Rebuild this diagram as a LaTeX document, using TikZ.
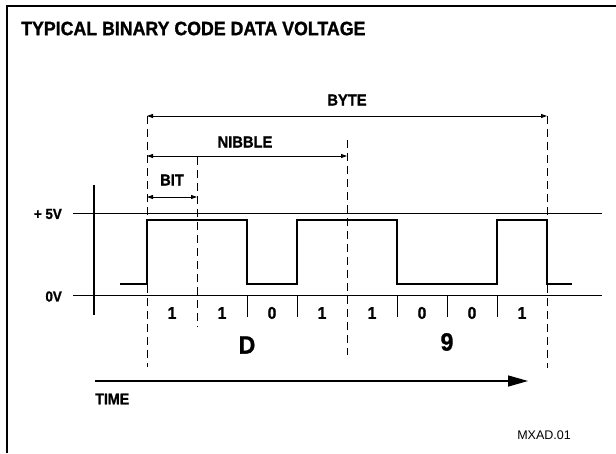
\documentclass[tikz,border=0pt]{standalone}
\usepackage{fontspec}
\setmainfont{Liberation Sans}[FakeStretch=0.92, BoldFeatures={FakeBold=1.2}]
\newfontfamily\plainfont{Liberation Sans}
\usetikzlibrary{arrows.meta}
\begin{document}
\begin{tikzpicture}[x=1pt,y=-1pt,
  lbl/.style={font=\fontsize{16}{17}\selectfont\bfseries, inner sep=0pt},
  vlbl/.style={font=\fontsize{14.5}{15}\selectfont\bfseries, inner sep=0pt},
  bitlbl/.style={font=\fontsize{17}{18}\selectfont\bfseries, inner sep=0pt},
  hexlbl/.style={font=\fontsize{25}{26}\selectfont\bfseries, inner sep=0pt},
  refline/.style={line width=0.9pt},
  dashline/.style={line width=0.8pt, dash pattern=on 8pt off 5pt},
  dimarrow/.style={line width=0.8pt, {Triangle[length=6pt,width=4pt]}-{Triangle[length=6pt,width=4pt]}},
  sig/.style={line width=2pt},
  tick/.style={line width=0.8pt}]
\useasboundingbox (0,0) rectangle (616,453);
% frame (top and left edges)
\draw[line width=1.6pt] (7,453) -- (7,6) -- (616,6);
% title
\node[font=\fontsize{19.3}{20}\selectfont\bfseries, inner sep=0pt, anchor=west] (title) at (21,28.5) {TYPICAL BINARY CODE DATA VOLTAGE};
% voltage axis and reference lines
\coordinate (axT) at (94,185);
\coordinate (axB) at (94,315);
\draw[line width=2pt] (axT) -- (axB);
\coordinate (p5L) at (73,213); \coordinate (p5R) at (602,213);
\coordinate (z0L) at (73,295); \coordinate (z0R) at (602,295);
\draw[refline] (p5L) -- (p5R);
\draw[refline] (z0L) -- (z0R);
\node[vlbl, anchor=east] (v5) at (62,214) {+ 5V};
\node[vlbl, anchor=east] (v0) at (62,296.5) {0V};
% signal
\draw[sig] (120,284) -- (147,284) -- (147,220) -- (247,220) -- (247,284) -- (297,284)
  -- (297,220) -- (397,220) -- (397,284) -- (497,284) -- (497,220) -- (547,220)
  -- (547,284) -- (572,284);
% ticks
\foreach \x in {247,297,397,447,497} \draw[tick] (\x,295) -- (\x,317);
% dashed boundaries
\coordinate (d1t) at (147,116); \coordinate (d1b) at (147,367);
\coordinate (d2t) at (197,157); \coordinate (d2b) at (197,327);
\coordinate (d3t) at (347,140); \coordinate (d3b) at (347,355);
\coordinate (d4t) at (547,116); \coordinate (d4b) at (547,368);
\draw[dashline] (d1t) -- (d1b);
\draw[dashline] (d2t) -- (d2b);
\draw[dashline] (d3t) -- (d3b);
\draw[dashline] (d4t) -- (d4b);
% dimension arrows
\coordinate (byL) at (147,116); \coordinate (byR) at (547,116);
\coordinate (niL) at (147,156); \coordinate (niR) at (347,156);
\coordinate (biL) at (147,197); \coordinate (biR) at (197,197);
\draw[dimarrow] (byL) -- (byR);
\draw[dimarrow] (niL) -- (niR);
\draw[dimarrow] (biL) -- (biR);
\node[lbl] (byte) at (347,100) {BYTE};
\node[lbl] (nibble) at (245,142) {NIBBLE};
\node[lbl] (bit) at (172,180) {BIT};
% bit values
\foreach \x/\v [count=\i] in {172/1,222/1,272/0,322/1,372/1,422/0,472/0,522/1}
  \node[bitlbl] (bv\i) at (\x,313) {\v};
\node[hexlbl] (hexD) at (247,345) {D};
\node[hexlbl] (hex9) at (447,342) {9};
% time arrow
\coordinate (tL) at (95,381); \coordinate (tR) at (528,381);
\draw[line width=1.5pt, -{Triangle[length=20pt,width=11pt]}] (tL) -- (tR);
\node[font=\fontsize{15.5}{16}\selectfont\bfseries, inner sep=0pt, anchor=west] (time) at (95,399) {TIME};
\node[font=\plainfont\fontsize{12.5}{13}\selectfont, inner sep=0pt, anchor=east] (code) at (571,435) {MXAD.01};
\end{tikzpicture}
\end{document}
